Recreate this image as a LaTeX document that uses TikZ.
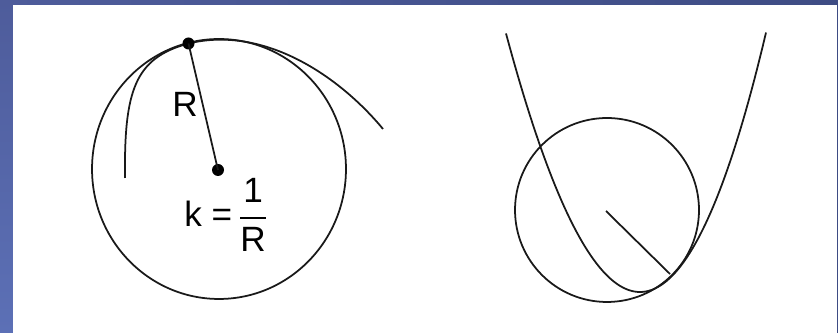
\documentclass[tikz,border=0pt]{standalone}
\usepackage{amsmath}
\usepackage{fontspec}
\setmainfont{Liberation Sans}
\usepackage{tikz}
\usetikzlibrary{calc}

\definecolor{frameblue}{RGB}{78,92,155}
\definecolor{framedark}{RGB}{62,76,132}
\definecolor{framelight}{RGB}{92,112,182}

\begin{document}
\begin{tikzpicture}[x=0.02cm,y=-0.02cm,
  curve/.style={line width=1pt,black!90},
  dotnode/.style={circle,fill=black,inner sep=0pt,minimum size=0.24cm},
  lbl/.style={inner sep=0pt,font=\fontsize{20}{24}\selectfont}]

\useasboundingbox (0,0) rectangle (838,333);

% Frame
\shade[top color=frameblue,bottom color=framelight] (0,0) rectangle (13,333);
\shade[left color=frameblue,right color=framedark] (0,0) rectangle (838,5);
\fill[white] (13,5) rectangle (837,333);
\draw[framedark,line width=0.6pt] (837.5,5) -- (837.5,333);

% Left: circle of curvature
\def\cx{219}
\def\cy{169}
\draw[curve] (\cx,\cy) ellipse [x radius=2.54cm, y radius=2.6cm];

% Curve touching the circle
\coordinate (tp) at (188.5,43.5);
\draw[curve] (125,178) .. controls (124,90) and (135,58) .. (tp)
  .. controls (265,25) and (340,77) .. (383,129);

% Radius
\node[dotnode] (ctr) at (218,170) {};
\node[dotnode] (tpdot) at (tp) {};
\draw[curve] (tpdot.center) -- (ctr.center);

% Labels
\node[lbl] (rlab) at (185,104) {R};
\node[lbl,anchor=west] (klab) at (184,215) {$\text{k\ =}\,\dfrac{\text{1}}{\text{R}}$};

% Right: parabola and its circle
\draw[curve] (607,210) circle [radius=1.84cm];
\draw[curve] plot[domain=-134:126,samples=90,variable=\u]
  ({640+\u},{292-(\u/10)*(\u/10)*(1.54+0.00075*\u)});

% Radius to the touching point
\coordinate (c2) at (606,211);
\coordinate (t2) at (670,274);
\draw[curve] (c2) -- (t2);

\end{tikzpicture}
\end{document}
